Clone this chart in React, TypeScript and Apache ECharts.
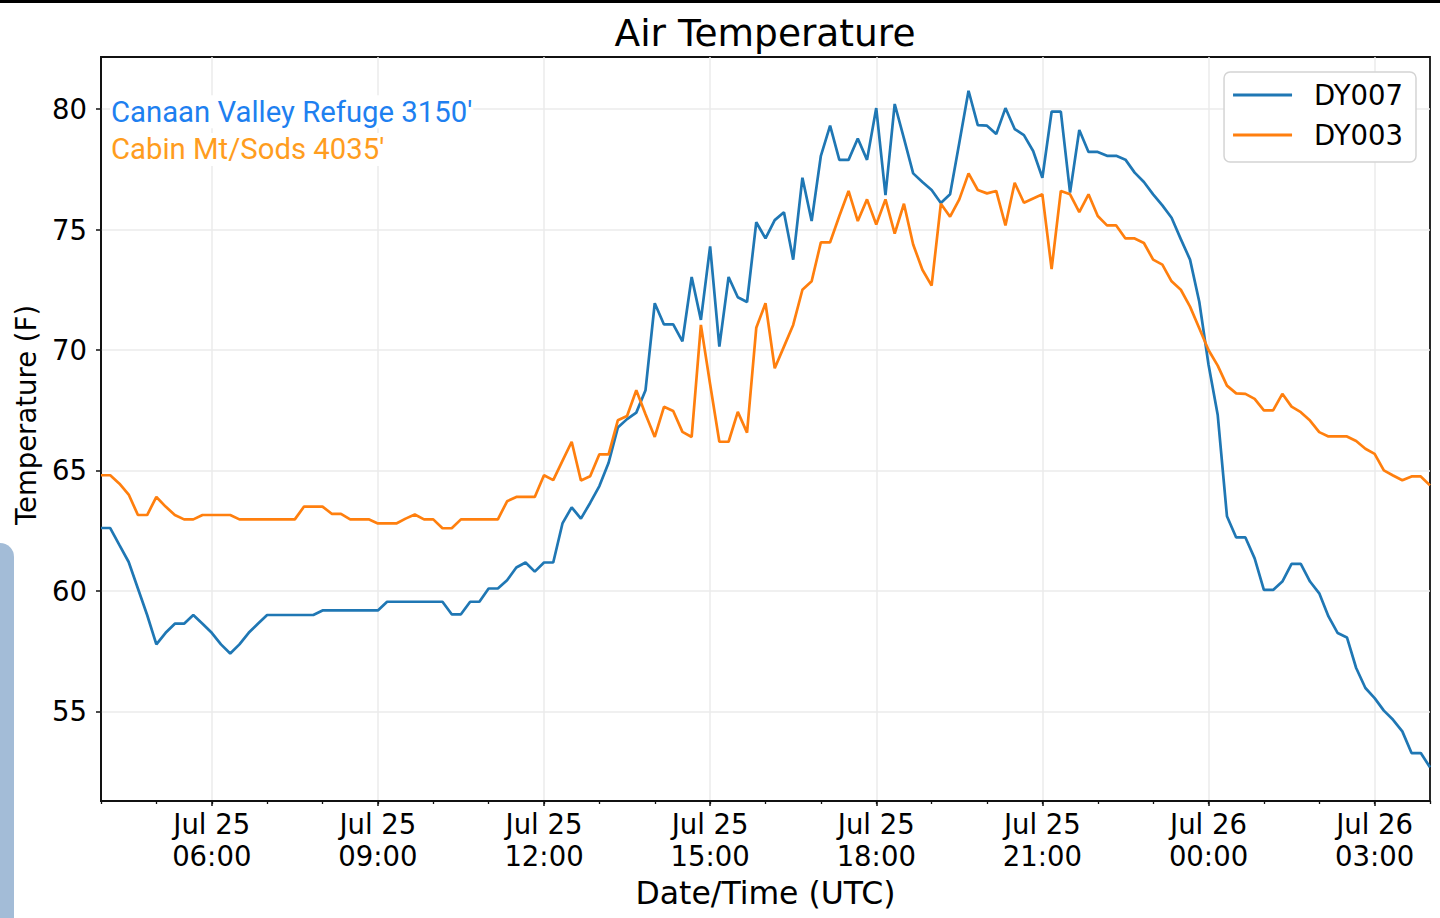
import React, { useEffect, useRef } from "react";
import * as echarts from "echarts";

// ---- data (10-minute readings, UTC, starting Jul 25 04:00) ----
const startTime = Date.UTC(2019, 6, 25, 4, 0);
const stepMinutes = 10;

const dy007 = [
  62.61, 62.61, 61.9, 61.2, 60.1, 59.0, 57.78, 58.26, 58.64, 58.64,
  59.0, 58.64, 58.26, 57.78, 57.4, 57.78, 58.26, 58.64, 59.0, 59.0,
  59.0, 59.0, 59.0, 59.0, 59.19, 59.19, 59.19, 59.19, 59.19, 59.19,
  59.19, 59.55, 59.55, 59.55, 59.55, 59.55, 59.55, 59.55, 59.03, 59.03,
  59.55, 59.55, 60.1, 60.1, 60.44, 60.97, 61.18, 60.8, 61.18, 61.18,
  62.8, 63.47, 63.0, 63.65, 64.35, 65.32, 66.78, 67.13, 67.4, 68.33,
  71.94, 71.06, 71.06, 70.36, 73.03, 71.25, 74.3, 70.14, 73.03, 72.19,
  71.99, 75.3, 74.63, 75.39, 75.72, 73.75, 77.15, 75.35, 78.06, 79.31,
  77.89, 77.89, 78.78, 77.89, 80.04, 76.43, 80.21, 78.78, 77.33, 76.97,
  76.64, 76.1, 76.46, 78.6, 80.76, 79.33, 79.31, 78.96, 80.04, 79.17,
  78.92, 78.26, 77.15, 79.89, 79.89, 76.53, 79.13, 78.22, 78.22, 78.06,
  78.06, 77.9, 77.36, 76.97, 76.46, 76.0, 75.49, 74.6, 73.75, 72.0,
  69.4, 67.3, 63.1, 62.22, 62.22, 61.35, 60.04, 60.04, 60.39, 61.12,
  61.12, 60.39, 59.9, 58.94, 58.25, 58.07, 56.8, 55.97, 55.55, 55.03,
  54.65, 54.17, 53.27, 53.27, 52.68,
];

const dy003 = [
  64.8, 64.8, 64.45, 64.0, 63.15, 63.15, 63.9, 63.5, 63.15, 62.97,
  62.97, 63.15, 63.15, 63.15, 63.15, 62.97, 62.97, 62.97, 62.97, 62.97,
  62.97, 62.97, 63.5, 63.5, 63.5, 63.2, 63.2, 62.97, 62.97, 62.97,
  62.8, 62.8, 62.8, 63.0, 63.17, 62.97, 62.97, 62.6, 62.6, 62.97,
  62.97, 62.97, 62.97, 62.97, 63.72, 63.9, 63.9, 63.9, 64.8, 64.6,
  65.4, 66.19, 64.58, 64.76, 65.67, 65.67, 67.08, 67.26, 68.33, 67.33,
  66.39, 67.64, 67.47, 66.6, 66.39, 71.04, 68.58, 66.19, 66.19, 67.43,
  66.57, 70.92, 71.94, 69.24, 70.14, 71.04, 72.5, 72.85, 74.47, 74.47,
  75.56, 76.6, 75.35, 76.25, 75.21, 76.25, 74.83, 76.07, 74.38, 73.33,
  72.67, 76.07, 75.53, 76.25, 77.33, 76.64, 76.5, 76.6, 75.17, 76.94,
  76.11, 76.29, 76.46, 73.36, 76.6, 76.46, 75.72, 76.46, 75.56, 75.17,
  75.17, 74.63, 74.63, 74.44, 73.75, 73.54, 72.85, 72.5, 71.8, 70.9,
  70.0, 69.35, 68.52, 68.2, 68.18, 67.97, 67.49, 67.49, 68.18, 67.65,
  67.42, 67.07, 66.59, 66.41, 66.41, 66.41, 66.22, 65.9, 65.69, 65.0,
  64.79, 64.59, 64.75, 64.75, 64.38,
];

const seriesNames = ["DY007", "DY003"];
const annotations = ["Canaan Valley Refuge 3150'", "Cabin Mt/Sods 4035'"];
const xTickTimes = [
  "2019-07-25T06:00:00Z", "2019-07-25T09:00:00Z", "2019-07-25T12:00:00Z",
  "2019-07-25T15:00:00Z", "2019-07-25T18:00:00Z", "2019-07-25T21:00:00Z",
  "2019-07-26T00:00:00Z", "2019-07-26T03:00:00Z",
];
const yTicks = [55, 60, 65, 70, 75, 80];
const xMin = Date.UTC(2019, 6, 25, 4, 0);
const xMax = Date.UTC(2019, 6, 26, 4, 0);
const yMin = 51.28;
const yMax = 82.16;

const MONTHS = ["Jan", "Feb", "Mar", "Apr", "May", "Jun", "Jul", "Aug", "Sep", "Oct", "Nov", "Dec"];
function fmtTime(v: number): string {
  const d = new Date(v);
  const hh = String(d.getUTCHours()).padStart(2, "0");
  const mm = String(d.getUTCMinutes()).padStart(2, "0");
  return `${MONTHS[d.getUTCMonth()]} ${d.getUTCDate()}\n${hh}:${mm}`;
}

export default function App() {
  const ref = useRef<HTMLDivElement>(null);

  useEffect(() => {
    if (!ref.current) return;
    const chart = echarts.init(ref.current, null, { renderer: "svg" });

    const times = dy007.map((_, i) => startTime + i * stepMinutes * 60000);
    const majorTicks = xTickTimes.map((s) => Date.parse(s));
    const minorTicks: number[] = [];
    for (let t = xMin; t <= xMax; t += 3600000) minorTicks.push(t);

    const FONT = "DejaVu Sans";
    const black = "#000";

    const option: any = {
      animation: false,
      backgroundColor: "#fff",
      textStyle: { fontFamily: FONT },
      title: {
        text: "Air Temperature",
        left: 765,
        top: 13.5,
        textAlign: "center",
        padding: 0,
        textStyle: { fontFamily: FONT, fontSize: 37.5, fontWeight: "normal", color: black },
      },
      grid: {
        left: 101,
        right: 10,
        top: 57,
        bottom: 117,
        show: true,
        borderColor: "#111",
        borderWidth: 1.8,
        backgroundColor: "transparent",
      },
      legend: {
        orient: "vertical",
        right: 24,
        top: 72,
        data: seriesNames.map((n) => ({ name: n, icon: "rect" })),
        itemWidth: 59,
        itemHeight: 3,
        itemGap: 10,
        padding: [8, 13, 12, 9],
        backgroundColor: "#fff",
        borderColor: "#d4d4d4",
        borderWidth: 1.5,
        borderRadius: 6,
        textStyle: { fontFamily: FONT, fontSize: 27.5, color: black, padding: [0, 0, 0, 17], lineHeight: 30 },
      },
      xAxis: [
        {
          type: "value",
          min: xMin,
          max: xMax,
          position: "bottom",
          name: "Date/Time (UTC)",
          nameLocation: "middle",
          nameGap: 75,
          nameTextStyle: { fontFamily: FONT, fontSize: 31.5, color: black },
          axisLine: { show: true, lineStyle: { color: "#111", width: 1.8 } },
          axisTick: { show: true, length: 5, customValues: majorTicks, lineStyle: { color: "#111", width: 1.5 } },
          axisLabel: {
            customValues: majorTicks,
            formatter: (v: number) => fmtTime(v),
            fontFamily: FONT,
            fontSize: 27.5,
            lineHeight: 32,
            color: black,
            margin: 7,
          },
          splitLine: { show: true, lineStyle: { color: "#ebebeb", width: 1.5 } },
        },
        {
          type: "value",
          min: xMin,
          max: xMax,
          position: "bottom",
          gridIndex: 0,
          axisLine: { show: false },
          axisTick: { show: true, length: 3, customValues: minorTicks, lineStyle: { color: "#111", width: 1.3 } },
          axisLabel: { show: false },
          splitLine: { show: false },
        },
      ],
      yAxis: {
        type: "value",
        min: yMin,
        max: yMax,
        axisLine: { show: true, lineStyle: { color: "#111", width: 1.8 } },
        axisTick: { show: true, length: 5, customValues: yTicks, lineStyle: { color: "#111", width: 1.5 } },
        axisLabel: { customValues: yTicks, fontFamily: FONT, fontSize: 27.5, color: black, margin: 14 },
        splitLine: { show: true, lineStyle: { color: "#ebebeb", width: 1.5 } },
      },
      series: [
        {
          name: seriesNames[0],
          type: "line",
          xAxisIndex: 0,
          symbol: "none",
          showSymbol: false,
          color: "#1f77b4",
          lineStyle: { color: "#1f77b4", width: 2.7 },
          data: times.map((t, i) => [t, dy007[i]]),
        },
        {
          name: seriesNames[1],
          type: "line",
          xAxisIndex: 0,
          symbol: "none",
          showSymbol: false,
          color: "#ff7f0e",
          lineStyle: { color: "#ff7f0e", width: 2.7 },
          data: times.map((t, i) => [t, dy003[i]]),
        },
      ],
      graphic: [
        { type: "rect", shape: { x: 0, y: 0, width: 1440, height: 3 }, style: { fill: "#000" }, silent: true },
        { type: "rect", shape: { x: 0, y: 543, width: 14, height: 380, r: [0, 14, 0, 0] }, style: { fill: "#a3bcd7" }, silent: true },
        {
          type: "text",
          x: 25.5,
          y: 415,
          rotation: Math.PI / 2,
          style: { text: "Temperature (F)", font: `27.5px "${FONT}"`, fill: black, align: "center", verticalAlign: "middle" },
        },
        {
          type: "text",
          x: 110,
          y: 111.8,
          z: 10,
          style: {
            text: annotations[0], font: "29.3px Roboto", fill: "#1e80f0", align: "left", verticalAlign: "middle",
            backgroundColor: "#fff", padding: [2, 1, 2, 1],
          },
        },
        {
          type: "text",
          x: 110,
          y: 149.4,
          z: 10,
          style: {
            text: annotations[1], font: "29.3px Roboto", fill: "#ff9d1e", align: "left", verticalAlign: "middle",
            backgroundColor: "#fff", padding: [2, 1, 2, 1],
          },
        },
      ],
    };

    chart.setOption(option);
    return () => chart.dispose();
  }, []);

  return <div ref={ref} style={{ position: "fixed", left: 0, top: 0, width: 1440, height: 918 }} />;
}
